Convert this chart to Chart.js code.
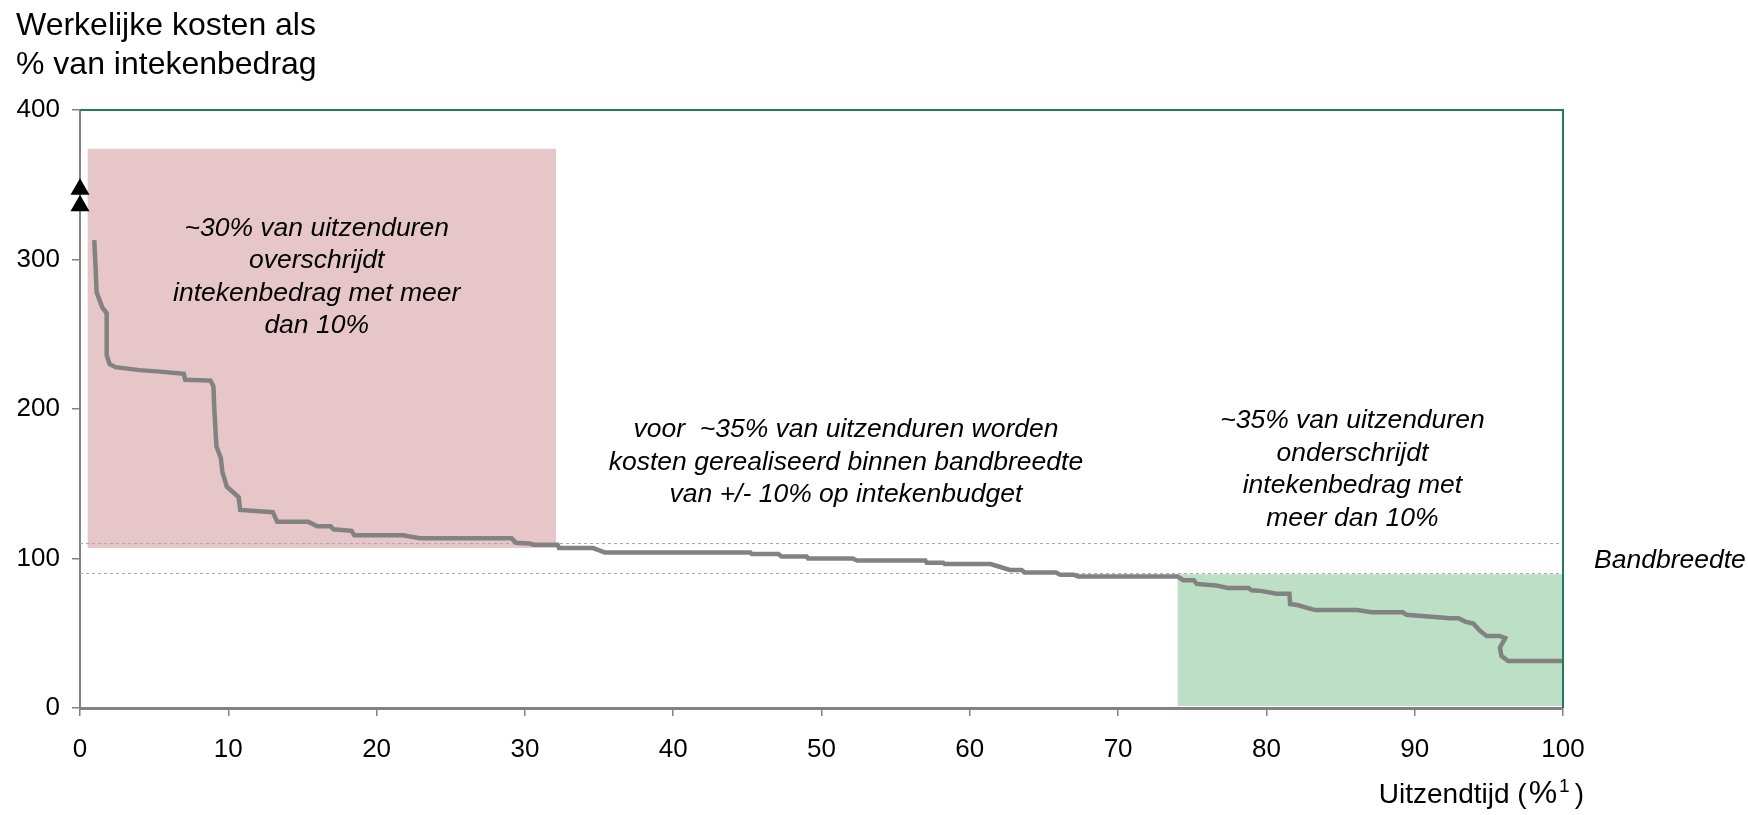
<!DOCTYPE html>
<html>
<head>
<meta charset="utf-8">
<title>Werkelijke kosten als % van intekenbedrag</title>
<script src="https://cdn.jsdelivr.net/npm/chart.js@4"></script>
<style>
  html, body { margin: 0; padding: 0; background: #fff; }
  #wrap { width: 1748px; height: 815px; position: relative; }
</style>
</head>
<body>
<div id="wrap"><canvas id="chart" width="1748" height="815"></canvas></div>
<script>
// values
const curveX = [0.96, 1.05, 1.12, 1.5, 1.8, 1.8, 2.0, 2.4, 4.0, 5.4, 7.0, 7.1, 8.8, 9.0, 9.05, 9.2, 9.5, 9.6, 9.9, 10.7,
  10.8, 13.0, 13.3, 15.4, 16.0, 16.9, 17.1, 18.3, 18.5, 21.8, 22.9, 29.1, 29.4, 30.3, 30.6, 32.2, 32.3, 34.6, 35.4, 45.2,
  45.3, 47.1, 47.3, 49.0, 49.1, 52.1, 52.4, 57.0, 57.1, 58.2, 58.3, 61.4, 62.0, 62.7, 63.5, 63.7, 65.8, 66.1, 67.0, 67.3,
  74.0, 74.4, 75.1, 75.3, 76.6, 77.4, 78.8, 79.0, 79.5, 80.7, 81.55, 81.6, 82.15, 82.8, 83.3, 86.1, 87.1, 89.2, 89.45, 92.4,
  92.95, 93.4, 93.95, 94.4, 94.85, 95.75, 96.1, 95.75, 95.85, 96.3, 100];
const curveY = [313, 295, 278, 268, 264, 236, 230, 228, 226, 225, 223.5, 219.5, 219, 215, 201, 175, 167, 158, 148, 141,
  132.5, 131, 124.5, 124.5, 121.5, 121.5, 119.5, 118.5, 115.5, 115.5, 113.5, 113.5, 110.5, 110, 109.2, 109.2, 107, 107, 104, 104,
  103, 103, 101.4, 101.4, 100, 100, 98.7, 98.7, 97.1, 97.1, 96.3, 96.3, 94.5, 92.3, 92.3, 90.7, 90.7, 89.2, 89.2, 88,
  88, 85.5, 85.5, 83, 82, 80.3, 80.3, 78.8, 78.5, 76.5, 76.5, 69.5, 68.7, 66.8, 65.5, 65.5, 64, 64, 62.3, 60.1,
  60.1, 57.8, 56.5, 51.6, 48.2, 48.2, 46.7, 40.4, 34.8, 31.5, 31.5];

// shaded regions (x range, y range)
const overBoxX = [0.5, 32.1];
const overBoxY = [107, 374];
const underBoxX = [74, 100];
const underBoxY = [1.3, 89.5];

// bandwidth +/- 10%
const bandLines = [110, 90];
// "off the chart" arrows on the y axis
const arrowY = [347, 336];

const xTicks = [0, 10, 20, 30, 40, 50, 60, 70, 80, 90, 100];
const yTicks = [0, 100, 200, 300, 400];

const titleLines = ['Werkelijke kosten als', '% van intekenbedrag'];
const notes = [
  { x: 15.96, y: 316, lines: ['~30% van uitzenduren', 'overschrijdt', 'intekenbedrag met meer', 'dan 10%'] },
  { x: 51.65, y: 181, lines: ['voor  ~35% van uitzenduren worden', 'kosten gerealiseerd binnen bandbreedte', 'van +/- 10% op intekenbudget'] },
  { x: 85.8, y: 187, lines: ['~35% van uitzenduren', 'onderschrijdt', 'intekenbedrag met', 'meer dan 10%'] }
];
const bandLabel = 'Bandbreedte';

const FONT = '"Liberation Sans", Arial, sans-serif';
const grey = '#828282';

function pts(xs, ys){
  return xs.map((v, i) => ({ x: v, y: ys[i] }));
}

// titles, notes and the green frame
const textLayer = {
  id: 'textLayer',
  afterDraw(chart){
    const { ctx, chartArea: a, scales: { x, y } } = chart;
    ctx.save();
    ctx.strokeStyle = '#217a5b';
    ctx.lineWidth = 2;
    ctx.beginPath();
    ctx.moveTo(a.left, a.top);
    ctx.lineTo(a.right, a.top);
    ctx.lineTo(a.right, a.bottom);
    ctx.stroke();

    ctx.fillStyle = '#000';
    ctx.textBaseline = 'alphabetic';
    ctx.textAlign = 'left';
    ctx.font = '32px ' + FONT;
    titleLines.forEach((t, i) => ctx.fillText(t, 16, 35 + i * 39));

    ctx.font = 'italic 26.5px ' + FONT;
    ctx.textAlign = 'center';
    notes.forEach(n => {
      const px = x.getPixelForValue(n.x);
      const py = y.getPixelForValue(n.y);
      n.lines.forEach((l, i) => ctx.fillText(l, px, py + i * 32.5));
    });

    ctx.textAlign = 'left';
    ctx.fillText(bandLabel, a.right + 31, y.getPixelForValue(100) + 9);

    // x axis title with superscript
    const big = '28px ' + FONT, pct = '32px ' + FONT, small = '19px ' + FONT;
    ctx.font = big;
    const wa = ctx.measureText('Uitzendtijd (').width + 2;
    const w3 = ctx.measureText(')').width;
    ctx.font = pct;
    const wb = ctx.measureText('%').width + 2;
    ctx.font = small;
    const w2 = ctx.measureText('1').width + 5;
    const sx = 1584 - (wa + wb + w2 + w3);
    const base = 803;
    ctx.font = big;
    ctx.fillText('Uitzendtijd (', sx, base);
    ctx.font = pct;
    ctx.fillText('%', sx + wa, base);
    ctx.font = small;
    ctx.fillText('1', sx + wa + wb, base - 11);
    ctx.font = big;
    ctx.fillText(')', sx + wa + wb + w2, base);
    ctx.restore();
  }
};

new Chart(document.getElementById('chart'), {
  type: 'line',
  data: {
    datasets: [
      {
        data: arrowY.map(v => ({ x: 0, y: v })),
        showLine: false,
        pointStyle: 'triangle',
        pointRadius: 11,
        pointBackgroundColor: '#000',
        pointBorderColor: '#000',
        pointBorderWidth: 0,
        clip: false,
        order: 0
      },
      {
        data: pts(curveX, curveY),
        borderColor: grey,
        borderWidth: 4.5,
        pointRadius: 0,
        tension: 0,
        fill: false,
        order: 1
      },
      {
        data: pts([0, 100], [bandLines[0], bandLines[0]]),
        borderColor: '#a6a6a6',
        borderWidth: 1,
        borderDash: [3, 3],
        pointRadius: 0,
        fill: false,
        order: 2
      },
      {
        data: pts([0, 100], [bandLines[1], bandLines[1]]),
        borderColor: '#a6a6a6',
        borderWidth: 1,
        borderDash: [3, 3],
        pointRadius: 0,
        fill: false,
        order: 2
      },
      {
        data: pts(overBoxX, [overBoxY[1], overBoxY[1]]),
        borderWidth: 0,
        borderColor: 'rgba(0,0,0,0)',
        backgroundColor: '#e6c6c8',
        pointRadius: 0,
        fill: { value: overBoxY[0] },
        order: 3
      },
      {
        data: pts(underBoxX, [underBoxY[1], underBoxY[1]]),
        borderWidth: 0,
        borderColor: 'rgba(0,0,0,0)',
        backgroundColor: '#bddfc5',
        pointRadius: 0,
        fill: { value: underBoxY[0] },
        order: 3
      }
    ]
  },
  options: {
    responsive: false,
    animation: false,
    layout: { padding: { top: 110, right: 185, left: 0, bottom: 0 } },
    plugins: {
      legend: { display: false },
      tooltip: { enabled: false },
      title: { display: false }
    },
    scales: {
      x: {
        type: 'linear',
        min: 0,
        max: 100,
        afterBuildTicks: s => { s.ticks = xTicks.map(v => ({ value: v })); },
        afterFit: s => { s.height = 107; },
        border: { color: grey, width: 3 },
        grid: { drawOnChartArea: false, drawTicks: true, tickLength: 8, color: grey, lineWidth: 1.5 },
        ticks: { color: '#000', font: { family: FONT, size: 26 }, padding: 18, maxRotation: 0 }
      },
      y: {
        type: 'linear',
        min: 0,
        max: 400,
        afterBuildTicks: s => { s.ticks = yTicks.map(v => ({ value: v })); },
        afterFit: s => { s.width = 80; },
        border: { color: grey, width: 2 },
        grid: { drawOnChartArea: false, drawTicks: true, tickLength: 8, color: grey, lineWidth: 1.5 },
        ticks: { color: '#000', font: { family: FONT, size: 26 }, padding: 12 }
      }
    }
  },
  plugins: [textLayer]
});
</script>
</body>
</html>
